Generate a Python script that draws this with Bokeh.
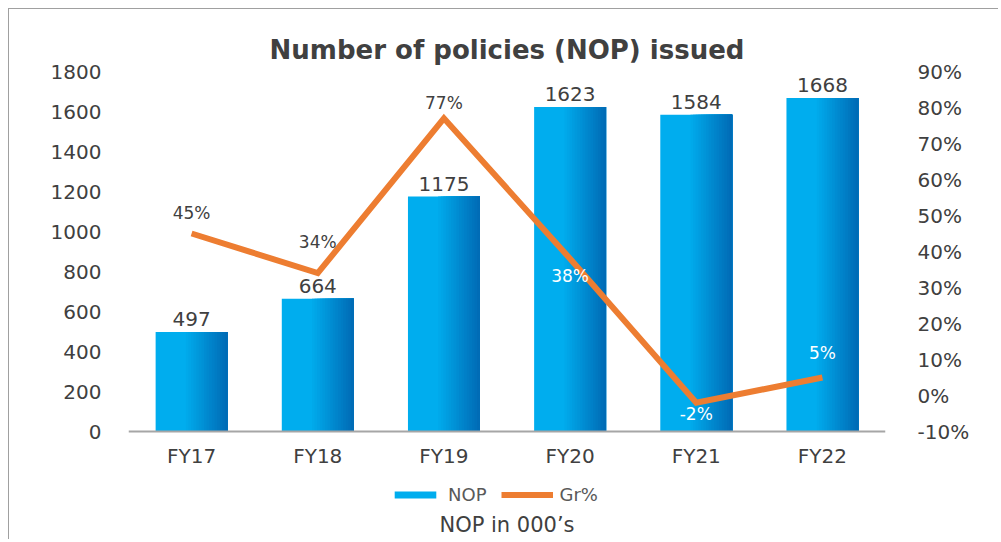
from bokeh.plotting import figure
from bokeh.models import (ColumnDataSource, FactorRange, Range1d, LinearAxis, LabelSet,
                          Legend, LegendItem, Title, PrintfTickFormatter, FixedTicker)
from bokeh.transform import dodge
from bokeh.core.properties import value, field
from bokeh.embed import file_html
from bokeh.resources import INLINE

# ---- data ----
categories = ["FY17", "FY18", "FY19", "FY20", "FY21", "FY22"]
nop = [497, 664, 1175, 1623, 1584, 1668]
growth = [45, 34, 77, 38, -2, 5]
left_ticks = [0, 200, 400, 600, 800, 1000, 1200, 1400, 1600, 1800]
right_ticks = [-10, 0, 10, 20, 30, 40, 50, 60, 70, 80, 90]

# ---- styles / layout ----
FONT = "DejaVu Sans"
TXT = "#404040"
gr_label_dy = [21, 31, 15, -17, -11, 25]
gr_label_col = [TXT, TXT, TXT, "white", "white", "white"]
# the frame is extended below the zero line to host the legend
LEFT_EXT = 395      # axis units below 0 on left scale
RIGHT_EXT = 21.94   # axis units below -10% on right scale

src = ColumnDataSource(dict(
    cat=categories, nop=nop, gr=growth,
    nop_lbl=[str(v) for v in nop],
    gr_lbl=[f"{g}%" for g in growth],
    gr_dy=gr_label_dy, gr_col=gr_label_col,
))

p = figure(x_range=FactorRange(factors=categories),
           y_range=Range1d(-LEFT_EXT, left_ticks[-1]),
           width=990, height=531, output_backend="svg", toolbar_location=None,
           min_border_left=119, min_border_right=114, min_border_top=62,
           min_border_bottom=30)
p.extra_y_ranges = {"gr": Range1d(right_ticks[0] - RIGHT_EXT, right_ticks[-1])}

# bars with simulated horizontal gradient
bar_w = 0.57
light = (0, 173, 238)
dark = (0, 108, 182)
base = p.vbar(x="cat", top="nop", bottom=0, width=bar_w, source=src,
              fill_color="#00ADEE", line_color=None)
n = 16
start = 0.42
for k in range(n):
    f = start + (1 - start) * k / n
    left = -bar_w / 2 + f * bar_w
    right = bar_w / 2
    t = (k + 1) / n
    col = tuple(int(round(light[i] + (dark[i] - light[i]) * t)) for i in range(3))
    p.vbar(x=dodge("cat", (left + right) / 2, range=p.x_range), top="nop", bottom=0,
           width=right - left, source=src,
           fill_color="#%02x%02x%02x" % col, line_color=None)

line = p.line(x="cat", y="gr", y_range_name="gr", source=src,
              line_color="#ED7D31", line_width=6, line_join="miter")

p.add_layout(LabelSet(x="cat", y="nop", text="nop_lbl", source=src,
                      text_align="center", text_baseline="alphabetic", y_offset=6,
                      text_font=value(FONT), text_font_size="20px", text_color=TXT))
p.add_layout(LabelSet(x="cat", y="gr", y_range_name="gr", text="gr_lbl", source=src,
                      text_align="center", text_baseline="middle",
                      y_offset=field("gr_dy"), text_color=field("gr_col"),
                      text_font=value(FONT), text_font_size="17px"))

# axes
p.xgrid.visible = False
p.ygrid.visible = False
p.outline_line_color = None

ya = p.yaxis[0]
ya.ticker = FixedTicker(ticks=left_ticks)
ya.axis_line_color = None
ya.major_tick_line_color = None
ya.minor_tick_line_color = None
ya.major_label_standoff = 21
ya.major_label_text_font = FONT
ya.major_label_text_font_size = "20px"
ya.major_label_text_color = TXT

ra = LinearAxis(y_range_name="gr", ticker=FixedTicker(ticks=right_ticks),
                formatter=PrintfTickFormatter(format="%d%%"))
ra.axis_line_color = None
ra.major_tick_line_color = None
ra.minor_tick_line_color = None
ra.major_label_standoff = 26
ra.major_label_text_font = FONT
ra.major_label_text_font_size = "20px"
ra.major_label_text_color = TXT
p.add_layout(ra, "right")

xa = p.xaxis[0]
xa.fixed_location = 0
xa.axis_line_color = "#A6A6A6"
xa.axis_line_width = 2
xa.major_tick_line_color = None
xa.minor_tick_line_color = None
xa.major_label_standoff = 6
xa.major_label_text_font = FONT
xa.major_label_text_font_size = "20px"
xa.major_label_text_color = TXT

# title
p.title.text = "Number of policies (NOP) issued"
p.title.align = "center"
p.title.offset = 5
p.title.standoff = 14
p.title.text_font = FONT
p.title.text_font_size = "26px"
p.title.text_font_style = "bold"
p.title.text_color = TXT

legend = Legend(items=[LegendItem(label="NOP", renderers=[base]),
                       LegendItem(label="Gr%", renderers=[line])],
                orientation="horizontal", location=(261, 5),
                glyph_width=52, glyph_height=9, label_standoff=7, spacing=14,
                label_text_font=FONT, label_text_font_size="18px",
                label_text_color="#595959", border_line_color=None,
                background_fill_alpha=0, padding=0)
p.add_layout(legend)

sub = Title(text="NOP in 000\u2019s", align="center", text_font=FONT,
            text_font_size="21px", text_font_style="normal", text_color=TXT,
            standoff=0, offset=10)
p.add_layout(sub, "below")

p.styles = {"margin-left": "8px", "margin-top": "8px",
            "border-top": "1px solid #A0A0A0", "border-left": "1px solid #A0A0A0"}

open("out.html", "w").write(file_html(p, INLINE))
